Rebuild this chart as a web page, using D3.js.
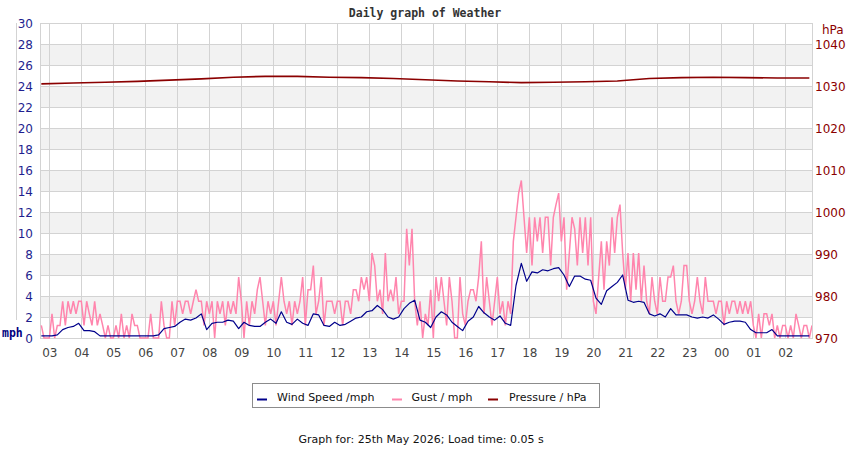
<!DOCTYPE html>
<html><head><meta charset="utf-8">
<script src="https://cdn.jsdelivr.net/npm/d3@7"></script>
<style>
html,body{margin:0;padding:0;background:#fff;}
svg{display:block;}
</style></head>
<body>
<svg id="chart" width="850" height="450"></svg>
<script>
// ---- Data ----
const title = "Daily graph of Weather";
const footer = "Graph for: 25th May 2026; Load time: 0.05 s";
const seriesNames = ["Wind Speed /mph", "Gust / mph", "Pressure / hPa"];
const seriesColors = ["#00008b", "#ff85ad", "#8b0000"];
const leftTicks = [0,2,4,6,8,10,12,14,16,18,20,22,24,26,28,30];
const rightTicks = [970,980,990,1000,1010,1020,1030,1040];

// gust, every 5 minutes from 24 May 02:45
const gust = [
 1.2,0,0,0,2.3,0,1.2,1.2,3.5,1.2,3.5,2.3,
 3.5,2.3,3.5,3.5,1.2,3.5,2.3,1.2,3.5,1.2,2.3,1.2,
 0,1.2,0,0,1.2,0,2.3,0,1.2,0,2.3,1.2,
 1.2,0,0,0,0,2.3,0,0,0,3.5,1.2,0,
 0,3.5,1.2,3.5,3.5,2.3,3.5,3.5,2.3,3.5,4.6,3.5,
 3.5,1.2,3.5,2.3,3.5,0,3.5,2.3,3.5,1.2,3.5,2.3,
 3.5,2.3,5.8,3.5,0,3.5,1.2,3.5,2.3,4.6,5.8,3.5,
 1.2,3.5,2.3,3.5,1.2,3.5,5.8,3.5,2.3,3.5,1.2,3.5,
 2.3,3.5,5.8,1.2,4.6,4.6,6.9,2.3,3.5,5.8,1.2,3.5,
 3.5,3.5,2.3,3.5,3.5,1.2,3.5,3.5,2.3,4.6,4.6,3.5,
 5.8,4.6,5.8,3.5,8.1,6.9,3.5,4.6,2.3,8.1,3.5,4.6,
 3.5,5.8,2.3,3.5,3.5,10.4,6.9,10.4,3.5,1.2,3.5,0,
 2.3,1.2,4.6,0,5.8,3.5,5.8,3.5,1.2,5.8,3.5,0,
 0,5.8,2.3,1.2,3.5,4.6,4.6,3.5,5.8,9.2,2.3,5.8,
 3.5,1.2,3.5,5.8,2.3,3.5,1.2,3.5,2.3,9.2,11.5,13.8,
 15.0,11.5,8.1,11.5,6.9,11.5,9.2,11.5,8.1,11.5,11.5,6.9,
 11.5,12.7,13.8,9.2,11.5,4.6,8.1,11.5,10.4,6.9,11.5,8.1,
 11.5,6.9,11.5,3.5,2.3,5.8,9.2,4.6,9.2,6.9,11.5,8.1,
 11.5,12.7,8.1,4.6,8.1,3.5,8.1,4.6,8.1,3.5,6.9,3.5,
 2.3,5.8,3.5,2.3,5.8,3.5,3.5,5.8,5.8,6.9,3.5,2.3,
 3.5,6.9,6.9,3.5,2.3,3.5,5.8,3.5,2.3,5.8,3.5,3.5,
 3.5,2.3,3.5,3.5,1.2,3.5,2.3,3.5,3.5,2.3,3.5,2.3,
 3.5,2.3,3.5,1.2,0,2.3,0,2.3,2.3,1.2,2.3,0,
 1.2,0,1.2,1.2,0,1.2,0,2.3,1.2,0,1.2,1.2,
 0,1.2
];

// wind speed, every 10 minutes from 24 May 02:45
const wind = [
 0.2,0.2,0.2,0.3,0.8,1.0,
 1.1,1.4,0.7,0.7,0.6,0.2,
 0.2,0.2,0.2,0.2,0.2,0.2,
 0.2,0.2,0.2,0.2,0.3,0.9,
 1.0,1.1,1.5,1.8,1.7,1.9,
 2.3,0.8,1.4,1.5,1.5,1.7,
 1.6,0.9,1.5,1.2,1.1,1.1,
 1.5,1.8,1.4,2.5,1.5,1.3,
 1.8,1.4,1.2,2.3,2.2,1.2,
 1.1,1.5,1.2,1.3,1.6,1.9,
 2.0,2.5,2.6,3.1,2.7,2.0,
 1.8,2.0,2.8,3.3,3.6,1.7,
 1.5,1.0,2.0,2.5,2.2,1.5,
 1.1,0.7,1.6,2.0,3.0,2.4,
 2.0,1.7,2.1,1.4,1.2,5.0,
 7.1,5.4,6.3,6.2,6.5,6.4,
 6.6,6.7,6.0,4.9,5.9,5.9,
 5.6,5.5,3.8,3.2,4.5,4.9,
 5.3,6.0,3.6,3.4,3.5,3.4,
 2.3,2.1,2.3,2.0,2.8,2.2,
 2.2,2.2,2.0,1.9,2.0,1.9,
 2.2,1.8,1.3,1.5,1.6,1.6,
 1.5,0.8,0.5,0.5,0.5,0.8,
 0.2,0.2,0.2,0.2,0.2,0.2,
 0.2
];

// pressure hPa, hourly from 24 May 02:45
const pressure = [
 1030.5,1030.7,1030.9,1031.1,1031.4,1031.7,1032.1,1032.3,1032.3,1032.1,
 1032.0,1031.8,1031.5,1031.2,1031.0,1030.8,1030.9,1031.0,1031.2,1031.8,
 1032.0,1032.1,1032.0,1031.9,1031.9
];

(function(){
const svg = d3.select("#chart");
const pL = 40, pR = 812, pT = 23, pB = 338;
const t0 = new Date(2026,4,24,2,42,30);
const t1 = new Date(2026,4,25,2,50,0);
const firstSample = new Date(2026,4,24,2,45,0);

const x = d3.scaleTime().domain([t0,t1]).range([pL,pR]);
const y = d3.scaleLinear().domain([0,30]).range([pB,pT]);
const yp = d3.scaleLinear().domain([970,1045]).range([pB,pT]);

const gustData = gust.map((v,i)=>({t:d3.timeMinute.offset(firstSample,5*i), v}));
const windData = wind.map((v,i)=>({t:d3.timeMinute.offset(firstSample,10*i), v}));
const presData = pressure.map((v,i)=>({t:d3.timeHour.offset(firstSample,i), v}));

// bands
const bands = leftTicks.filter(v => v%4===2 && v<30);
svg.append("g").selectAll("rect").data(bands).join("rect")
  .attr("x",pL).attr("width",pR-pL)
  .attr("y",d=>y(d+2)).attr("height",d=>y(d)-y(d+2))
  .attr("fill","#f2f2f2");

// horizontal grid
svg.append("g").selectAll("line").data(leftTicks).join("line")
  .attr("x1",pL).attr("x2",pR)
  .attr("y1",d=>y(d)+0.5).attr("y2",d=>y(d)+0.5)
  .attr("stroke","#d3d3d3").attr("stroke-width",1);

// vertical grid
const hours = x.ticks(d3.timeHour.every(1));
svg.append("g").selectAll("line").data(hours).join("line")
  .attr("x1",d=>Math.round(x(d))+0.5).attr("x2",d=>Math.round(x(d))+0.5)
  .attr("y1",pT).attr("y2",pB)
  .attr("stroke","#d3d3d3").attr("stroke-width",1);

// frame edges
svg.append("line").attr("x1",pL+0.5).attr("x2",pL+0.5).attr("y1",pT).attr("y2",pB+1)
  .attr("stroke","#d3d3d3");
svg.append("line").attr("x1",pR+0.5).attr("x2",pR+0.5).attr("y1",pT).attr("y2",pB+1)
  .attr("stroke","#d3d3d3");
svg.append("line").attr("x1",16.5).attr("x2",16.5).attr("y1",pT).attr("y2",320)
  .attr("stroke","#d3d3d3");

// clip
svg.append("clipPath").attr("id","clip").append("rect")
  .attr("x",pL).attr("y",pT).attr("width",pR-pL).attr("height",pB-pT+1);

const plot = svg.append("g").attr("clip-path","url(#clip)");
const line = d3.line().x(d=>x(d.t)).y(d=>y(d.v));
const pline = d3.line().x(d=>x(d.t)).y(d=>yp(d.v));

plot.append("path").datum(gustData).attr("d",line)
  .attr("fill","none").attr("stroke",seriesColors[1]).attr("stroke-width",1.5)
  .attr("stroke-linejoin","miter").attr("stroke-miterlimit",2);
plot.append("path").datum(windData).attr("d",line)
  .attr("fill","none").attr("stroke",seriesColors[0]).attr("stroke-width",1.2)
  .attr("stroke-linejoin","round");
plot.append("path").datum(presData).attr("d",pline)
  .attr("fill","none").attr("stroke",seriesColors[2]).attr("stroke-width",1.6);

// left axis labels
const font = "'DejaVu Sans', sans-serif";
svg.append("g").selectAll("text").data(leftTicks).join("text")
  .attr("x",33).attr("y",d=>y(d)+4.5).attr("text-anchor","end")
  .attr("font-family",font).attr("font-size",12).attr("fill","#1f1f8f")
  .text(d=>d);
svg.append("text").attr("x",2).attr("y",337).attr("font-family","'DejaVu Sans Mono', monospace")
  .attr("font-weight","bold").attr("font-size",11.5).attr("fill","#000080").text("mph");

// right axis labels
svg.append("g").selectAll("text").data(rightTicks).join("text")
  .attr("x",815).attr("y",d=>yp(d)+4.5).attr("text-anchor","start")
  .attr("font-family",font).attr("font-size",12).attr("fill","#8b0000")
  .text(d=>d);
svg.append("text").attr("x",822).attr("y",34).attr("font-family",font)
  .attr("font-size",12).attr("fill","#8b0000").text("hPa");

// x axis labels
const fmt = d3.timeFormat("%H");
svg.append("g").selectAll("text").data(hours).join("text")
  .attr("x",d=>x(d)+0.5).attr("y",357).attr("text-anchor","middle")
  .attr("font-family",font).attr("font-size",12).attr("fill","#444")
  .text(d=>fmt(d));

// title
svg.append("text").attr("x",425).attr("y",17).attr("text-anchor","middle")
  .attr("font-family","'DejaVu Sans Mono', monospace").attr("font-weight","bold")
  .attr("font-size",11.5).attr("fill","#333").text(title);

// legend
const lg = svg.append("g");
lg.append("rect").attr("x",252.5).attr("y",383.5).attr("width",347).attr("height",24)
  .attr("fill","#fff").attr("stroke","#8c8c8c");
const legendItems = [
  {name:seriesNames[0], color:seriesColors[0], dx:257, tx:277},
  {name:seriesNames[1], color:seriesColors[1], dx:392, tx:411.5},
  {name:seriesNames[2], color:seriesColors[2], dx:488, tx:509}
];
lg.selectAll("line").data(legendItems).join("line")
  .attr("x1",d=>d.dx).attr("x2",d=>d.dx+10).attr("y1",399.5).attr("y2",399.5)
  .attr("stroke",d=>d.color).attr("stroke-width",2);
lg.selectAll("text").data(legendItems).join("text")
  .attr("x",d=>d.tx).attr("y",401).attr("font-family",font).attr("font-size",11)
  .attr("fill","#111").text(d=>d.name);

// footer
svg.append("text").attr("x",421).attr("y",443).attr("text-anchor","middle")
  .attr("font-family",font).attr("font-size",11).attr("fill","#111").text(footer);
})();
</script>
</body></html>
